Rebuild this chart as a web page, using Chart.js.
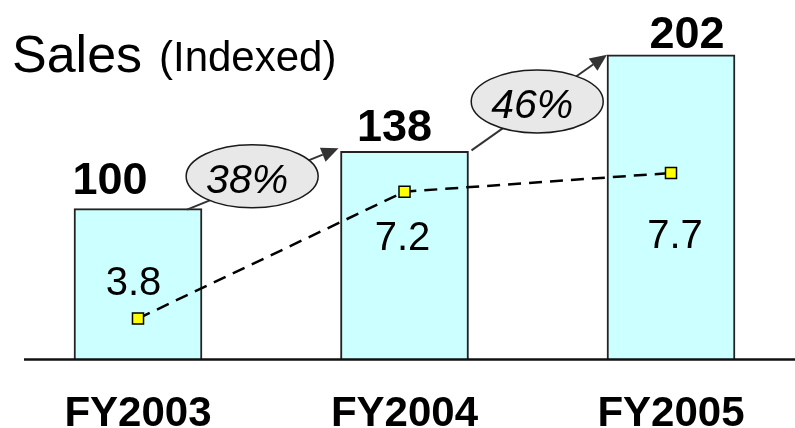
<!DOCTYPE html>
<html>
<head>
<meta charset="utf-8">
<script src="https://cdn.jsdelivr.net/npm/chart.js@4.4.1/dist/chart.umd.min.js"></script>
<style>
  html, body { margin: 0; padding: 0; background: #fff; }
  #wrap { width: 795px; height: 428px; position: relative; }
</style>
</head>
<body>
<div id="wrap"><canvas id="c"></canvas></div>
<script>
// Fiscal years on the category axis
const categories = ['FY2003', 'FY2004', 'FY2005'];
// Sales, indexed to FY2003 = 100
const salesIndex = [100, 138, 202];
// Secondary series shown as the dashed line with square markers
const marginValues = [3.8, 7.2, 7.7];
const marginLabels = ['3.8', '7.2', '7.7'];
// Year-on-year growth shown in the bubbles, derived from the sales index
const growthLabels = salesIndex.slice(1).map((v, i) =>
  Math.round((v / salesIndex[i] - 1) * 100) + '%');

const FONT = "'Liberation Sans', Arial, Helvetica, sans-serif";

const decorations = {
  id: 'decorations',
  afterDatasetsDraw(chart, args, opts) {
    const ctx = chart.ctx;
    const y = chart.scales.y;
    const bars = chart.getDatasetMeta(0).data;
    const pts = chart.getDatasetMeta(1).data;
    ctx.save();

    // baseline
    const y0 = y.getPixelForValue(0);
    ctx.strokeStyle = '#111';
    ctx.lineWidth = 2.5;
    ctx.beginPath();
    ctx.moveTo(opts.baseLeft, y0);
    ctx.lineTo(chart.width, y0);
    ctx.stroke();

    // growth arrows with bubbles
    growthLabels.forEach((txt, i) => {
      const a = bars[i], b = bars[i + 1];
      const ar = opts.arrows[i];
      const sx = a.x + a.width / 2 + ar.startDx, sy = a.y + ar.startDy;
      const ex = b.x - b.width / 2 + ar.endDx, ey = b.y + ar.endDy;
      const ang = Math.atan2(ey - sy, ex - sx);
      const headLen = 17, headHalf = 7.5;
      const bx = ex - headLen * Math.cos(ang), by = ey - headLen * Math.sin(ang);
      ctx.strokeStyle = '#333';
      ctx.fillStyle = '#333';
      ctx.lineWidth = 2;
      ctx.beginPath();
      ctx.moveTo(sx, sy);
      ctx.lineTo(bx, by);
      ctx.stroke();
      ctx.beginPath();
      ctx.moveTo(ex, ey);
      ctx.lineTo(bx + headHalf * Math.sin(ang), by - headHalf * Math.cos(ang));
      ctx.lineTo(bx - headHalf * Math.sin(ang), by + headHalf * Math.cos(ang));
      ctx.closePath();
      ctx.fill();

      const cx = sx + (ex - sx) * ar.t;
      const cy = sy + (ey - sy) * ar.t + ar.bubbleDy;
      ctx.beginPath();
      ctx.ellipse(cx, cy, 66, 31.5, 0, 0, Math.PI * 2);
      ctx.fillStyle = '#e8e8e8';
      ctx.fill();
      ctx.strokeStyle = '#1a1a1a';
      ctx.lineWidth = 1.5;
      ctx.stroke();

      ctx.fillStyle = '#000';
      ctx.font = 'italic 41px ' + FONT;
      ctx.textAlign = 'center';
      ctx.textBaseline = 'alphabetic';
      ctx.fillText(txt, cx - 5, cy + 16.5);
    });

    // sales values above the bars
    ctx.fillStyle = '#000';
    ctx.font = 'bold 45px ' + FONT;
    ctx.textAlign = 'center';
    ctx.textBaseline = 'alphabetic';
    bars.forEach((bar, i) => {
      const o = opts.valueOffsets[i];
      ctx.fillText(String(salesIndex[i]), bar.x + o[0], bar.y + o[1]);
    });

    // secondary values inside the bars
    ctx.font = '40px ' + FONT;
    pts.forEach((p, i) => {
      const o = opts.innerOffsets[i];
      ctx.fillText(marginLabels[i], p.x + o[0], p.y + o[1]);
    });

    ctx.restore();
  },
  afterDraw(chart) {
    const ctx = chart.ctx;
    ctx.save();
    ctx.fillStyle = '#000';
    ctx.textAlign = 'left';
    ctx.textBaseline = 'alphabetic';
    ctx.font = '52px ' + FONT;
    ctx.fillText('Sales', 12, 72);
    ctx.font = '42px ' + FONT;
    ctx.fillText('(Indexed)', 159, 71);
    ctx.restore();
  }
};

new Chart(document.getElementById('c'), {
  type: 'bar',
  data: {
    labels: categories,
    datasets: [
      {
        type: 'bar',
        data: salesIndex,
        yAxisID: 'y',
        backgroundColor: '#ccffff',
        borderColor: '#222',
        borderWidth: 2,
        borderSkipped: 'bottom',
        barThickness: 128,
        clip: false,
        order: 2
      },
      {
        type: 'line',
        data: marginValues,
        yAxisID: 'y2',
        borderColor: '#000',
        borderWidth: 2.5,
        borderDash: [13, 8],
        tension: 0,
        fill: false,
        pointStyle: 'rect',
        pointRadius: 7.8,
        pointBackgroundColor: '#ffff00',
        pointBorderColor: '#000',
        pointBorderWidth: 1.5,
        clip: false,
        order: 1
      }
    ]
  },
  options: {
    responsive: true,
    maintainAspectRatio: false,
    animation: false,
    devicePixelRatio: 1,
    layout: { padding: { top: 20, left: 138, right: 124, bottom: -42 } },
    plugins: {
      legend: { display: false },
      tooltip: { enabled: false },
      decorations: {
        baseLeft: 24,
        arrows: [
          { startDx: -15, startDy: 1, endDx: -2, endDy: -3, t: 0.43, bubbleDy: -7 },
          { startDx: 3, startDy: -1, endDx: 0, endDy: 0, t: 0.485, bubbleDy: -2.5 }
        ],
        valueOffsets: [[-28, -15], [-10, -10], [16, -7]],
        innerOffsets: [[-4.5, -24], [-2, 58], [4, 75]]
      }
    },
    scales: {
      x: {
        offset: false,
        grid: { display: false, drawTicks: false },
        border: { display: false },
        ticks: {
          color: '#000',
          padding: 30,
          font: { family: FONT, size: 42, weight: 'bold' },
          maxRotation: 0,
          autoSkip: false
        }
      },
      y: { display: false, min: 0, max: 225 },
      y2: { display: false, min: 2.7, max: 11.8 }
    }
  },
  plugins: [decorations]
});
</script>
</body>
</html>
